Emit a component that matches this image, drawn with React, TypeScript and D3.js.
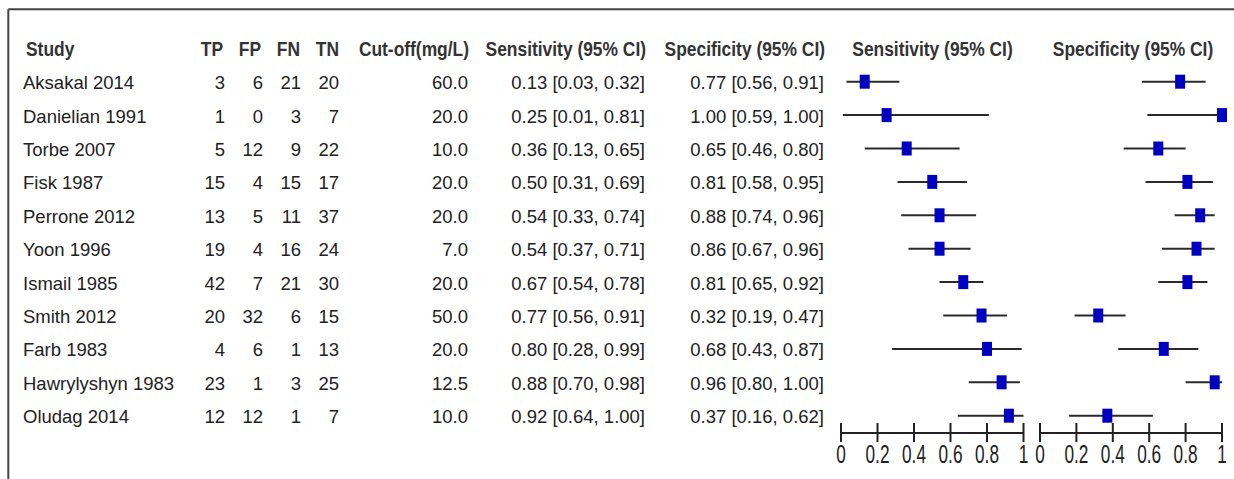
import { useEffect, useRef } from "react";
import * as d3 from "d3";

const studies = [
  "Aksakal 2014", "Danielian 1991", "Torbe 2007", "Fisk 1987", "Perrone 2012", "Yoon 1996",
  "Ismail 1985", "Smith 2012", "Farb 1983", "Hawrylyshyn 1983", "Oludag 2014",
];
const tp = [3, 1, 5, 15, 13, 19, 42, 20, 4, 23, 12];
const fp = [6, 0, 12, 4, 5, 4, 7, 32, 6, 1, 12];
const fn = [21, 3, 9, 15, 11, 16, 21, 6, 1, 3, 1];
const tn = [20, 7, 22, 17, 37, 24, 30, 15, 13, 25, 7];
const cutoff = [60.0, 20.0, 10.0, 20.0, 20.0, 7.0, 20.0, 50.0, 20.0, 12.5, 10.0];
const sens = [0.13, 0.25, 0.36, 0.5, 0.54, 0.54, 0.67, 0.77, 0.8, 0.88, 0.92];
const sensLo = [0.03, 0.01, 0.13, 0.31, 0.33, 0.37, 0.54, 0.56, 0.28, 0.7, 0.64];
const sensHi = [0.32, 0.81, 0.65, 0.69, 0.74, 0.71, 0.78, 0.91, 0.99, 0.98, 1.0];
const spec = [0.77, 1.0, 0.65, 0.81, 0.88, 0.86, 0.81, 0.32, 0.68, 0.96, 0.37];
const specLo = [0.56, 0.59, 0.46, 0.58, 0.74, 0.67, 0.65, 0.19, 0.43, 0.8, 0.16];
const specHi = [0.91, 1.0, 0.8, 0.95, 0.96, 0.96, 0.92, 0.47, 0.87, 1.0, 0.62];
const tickVals = [0, 0.2, 0.4, 0.6, 0.8, 1];

const W = 1234;
const H = 479;
const FONT = "'Liberation Sans', Arial, sans-serif";

type Col = [(i: number) => string, number, string];

export default function App() {
  const ref = useRef<SVGSVGElement>(null);

  useEffect(() => {
    if (!ref.current) return;
    const svg = d3.select(ref.current);
    svg.selectAll("*").remove();

    const y = d3.scalePoint<string>().domain(studies).range([81.7, 415.7]);
    const xSens = d3.scaleLinear().domain([0, 1]).range([841, 1023.5]);
    const xSpec = d3.scaleLinear().domain([0, 1]).range([1040, 1222]);
    const f2 = d3.format(".2f");
    const ci = (v: number, lo: number, hi: number) => `${f2(v)} [${f2(lo)}, ${f2(hi)}]`;

    // frame
    svg.append("line").attr("x1", 8.3).attr("x2", W).attr("y1", 9.3).attr("y2", 9.3)
      .attr("stroke", "#444").attr("stroke-width", 2);
    svg.append("line").attr("x1", 8.3).attr("x2", 8.3).attr("y1", 9.3).attr("y2", H)
      .attr("stroke", "#444").attr("stroke-width", 2);

    // header row
    const headers: [string, number, string][] = [
      ["Study", 26, "start"], ["TP", 223, "end"], ["FP", 261, "end"], ["FN", 300, "end"],
      ["TN", 339, "end"], ["Cut-off(mg/L)", 469, "end"], ["Sensitivity (95% CI)", 646, "end"],
      ["Specificity (95% CI)", 825, "end"],
      ["Sensitivity (95% CI)", 932.5, "middle"], ["Specificity (95% CI)", 1133, "middle"],
    ];
    svg.append("g").selectAll("text").data(headers).join("text")
      .attr("transform", (d) => `translate(${d[1]},55.5) scale(0.87,1)`)
      .attr("text-anchor", (d) => d[2])
      .attr("font-family", FONT).attr("font-weight", "bold").attr("font-size", 20)
      .attr("fill", "#333")
      .text((d) => d[0]);

    // table body
    const cols: Col[] = [
      [(i) => studies[i], 23, "start"],
      [(i) => String(tp[i]), 225, "end"],
      [(i) => String(fp[i]), 263, "end"],
      [(i) => String(fn[i]), 301, "end"],
      [(i) => String(tn[i]), 339, "end"],
      [(i) => cutoff[i].toFixed(1), 468, "end"],
      [(i) => ci(sens[i], sensLo[i], sensHi[i]), 645, "end"],
      [(i) => ci(spec[i], specLo[i], specHi[i]), 824, "end"],
    ];

    const body = svg.append("g").attr("font-family", FONT).attr("font-size", 18.5).attr("fill", "#222");
    cols.forEach(([fmt, x, anchor]) => {
      body.append("g").selectAll("text").data(studies).join("text")
        .attr("x", x).attr("y", (d) => (y(d) as number) + 7.5)
        .attr("text-anchor", anchor)
        .text((_, i) => fmt(i));
    });

    // forest panels
    const panels = [
      { x: xSens, est: sens, lo: sensLo, hi: sensHi },
      { x: xSpec, est: spec, lo: specLo, hi: specHi },
    ];
    panels.forEach((p) => {
      const g = svg.append("g");
      g.selectAll("line.ci").data(studies).join("line").attr("class", "ci")
        .attr("x1", (_, i) => p.x(p.lo[i])).attr("x2", (_, i) => p.x(p.hi[i]))
        .attr("y1", (d) => y(d) as number).attr("y2", (d) => y(d) as number)
        .attr("stroke", "#2a2a2a").attr("stroke-width", 2);
      g.selectAll("rect").data(studies).join("rect")
        .attr("x", (_, i) => p.x(p.est[i]) - 5).attr("y", (d) => (y(d) as number) - 7)
        .attr("width", 10).attr("height", 14)
        .attr("fill", "#0000c0");

      // axis
      const axY = 433;
      const [r0, r1] = p.x.range();
      g.append("line").attr("x1", r0).attr("x2", r1).attr("y1", axY).attr("y2", axY)
        .attr("stroke", "#222").attr("stroke-width", 2);
      g.selectAll("line.tick").data(tickVals).join("line").attr("class", "tick")
        .attr("x1", (d) => p.x(d)).attr("x2", (d) => p.x(d))
        .attr("y1", axY - 10).attr("y2", axY + 9)
        .attr("stroke", "#222").attr("stroke-width", 2);
      g.selectAll("text").data(tickVals).join("text")
        .attr("transform", (d) => `translate(${p.x(d)},463) scale(0.69,1)`)
        .attr("text-anchor", "middle")
        .attr("font-family", FONT).attr("font-size", 25).attr("fill", "#222")
        .text((d) => String(d));
    });
  }, []);

  return (
    <svg
      ref={ref}
      width={W}
      height={H}
      style={{ position: "absolute", left: 0, top: 0, display: "block", background: "#fff" }}
    />
  );
}
